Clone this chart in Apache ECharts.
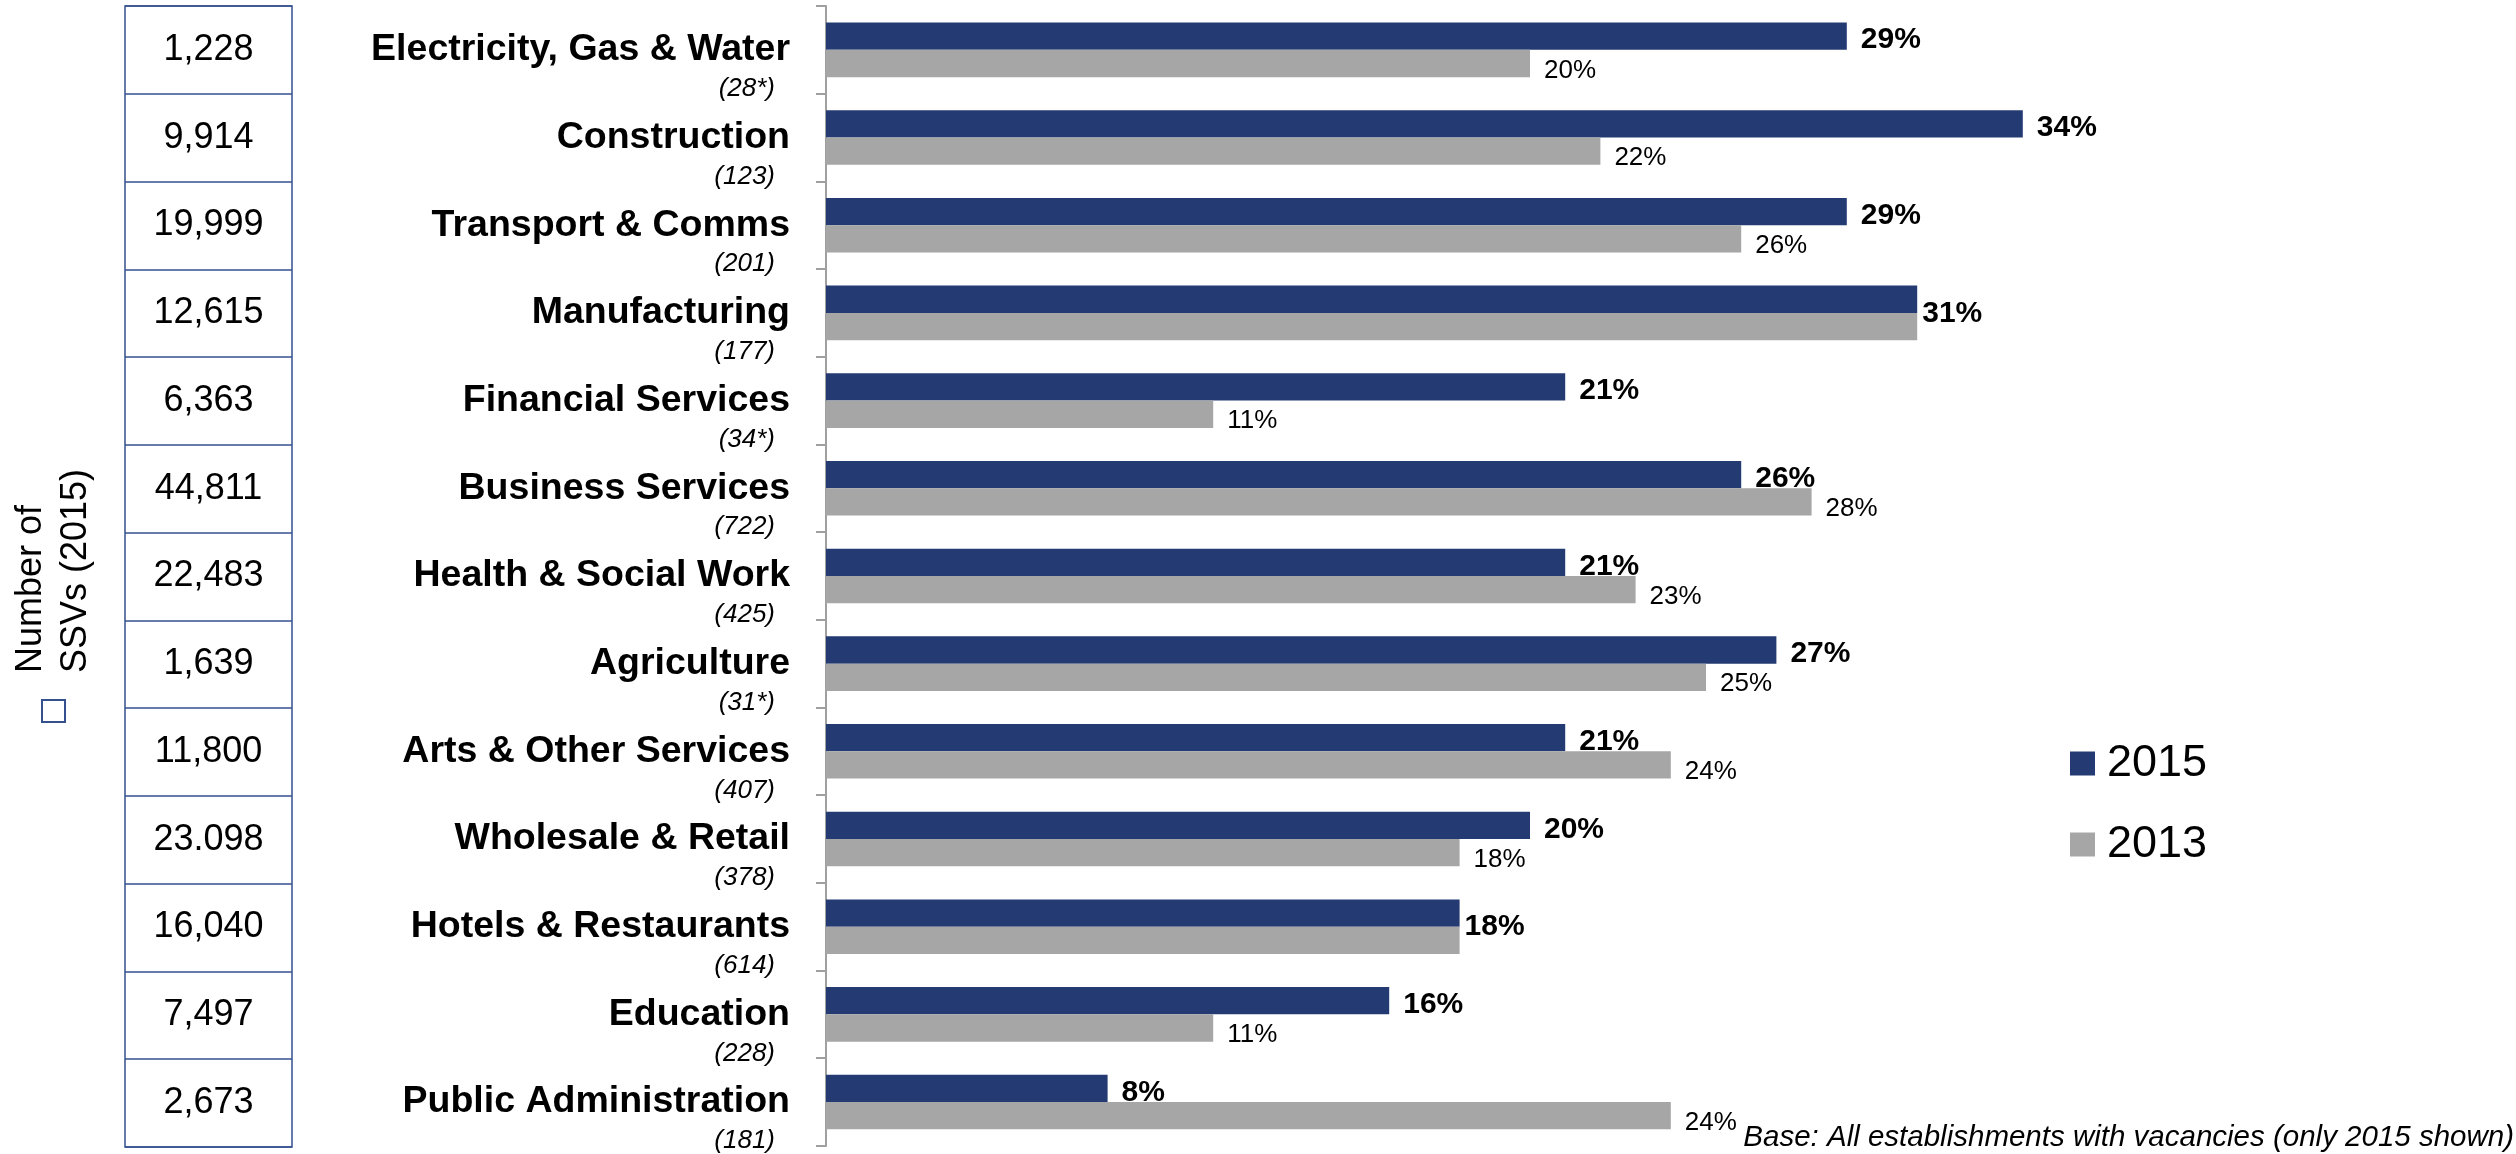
<!DOCTYPE html>
<html>
<head>
<meta charset="utf-8">
<script src="https://cdn.jsdelivr.net/npm/echarts@6/dist/echarts.min.js"></script>
<style>
  html, body { margin: 0; padding: 0; background: #ffffff; }
  #chart { width: 2516px; height: 1154px; }
</style>
</head>
<body>
<div id="chart"></div>
<script>
// Sectors, top to bottom
const categories = [
  'Electricity, Gas & Water', 'Construction', 'Transport & Comms', 'Manufacturing',
  'Financial Services', 'Business Services', 'Health & Social Work', 'Agriculture',
  'Arts & Other Services', 'Wholesale & Retail', 'Hotels & Restaurants', 'Education',
  'Public Administration'
];
// Base sizes shown under each sector name
const bases = ['(28*)', '(123)', '(201)', '(177)', '(34*)', '(722)', '(425)', '(31*)',
  '(407)', '(378)', '(614)', '(228)', '(181)'];
// Number of SSVs (2015), as printed in the side table
const ssvCounts = ['1,228', '9,914', '19,999', '12,615', '6,363', '44,811', '22,483',
  '1,639', '11,800', '23.098', '16,040', '7,497', '2,673'];
// Percentages by year
const values2015 = [29, 34, 29, 31, 21, 26, 21, 27, 21, 20, 18, 16, 8];
const values2013 = [20, 22, 26, 31, 11, 28, 23, 25, 24, 18, 18, 11, 24];

const FONT = '"Liberation Sans", Arial, sans-serif';
const NAVY = '#243A73';
const GREY = '#A6A6A6';
const TABLE_LINE = '#34508F';

// When both years are equal, one label is shown, centred on the pair of bars
const data2015 = values2015.map((v, i) => {
  if (v === values2013[i]) {
    return { value: v, label: { distance: 5, offset: [0, 14] } };
  }
  return v;
});
const data2013 = values2013.map((v, i) => {
  if (v === values2015[i]) {
    return { value: v, label: { show: false } };
  }
  return v;
});

const chart = echarts.init(document.getElementById('chart'), null, { renderer: 'canvas' });

chart.setOption({
  animation: false,
  backgroundColor: '#ffffff',
  textStyle: { fontFamily: FONT },
  grid: [
    // main bar area
    { left: 826, top: 6, width: 1408, height: 1141, containLabel: false },
    // side table of SSV counts
    { left: 125, top: 6, width: 167, height: 1141, show: true,
      borderColor: TABLE_LINE, borderWidth: 1.5, backgroundColor: 'transparent' }
  ],
  xAxis: [
    { gridIndex: 0, type: 'value', min: 0, max: 40, show: false },
    { gridIndex: 1, type: 'value', min: 0, max: 1, show: false }
  ],
  yAxis: [
    {
      gridIndex: 0,
      type: 'category',
      data: categories,
      inverse: true,
      axisLine: { show: true, lineStyle: { color: '#A0A0A0', width: 2 } },
      axisTick: { show: true, length: 10, inside: false, lineStyle: { color: '#A0A0A0', width: 2 } },
      axisLabel: {
        margin: 36,
        padding: [36, 0, 0, 0],
        formatter: (v, i) => '{n|' + v + '}\n{s|' + bases[i] + '}',
        rich: {
          n: { fontFamily: FONT, fontSize: 37.5, fontWeight: 'bold', color: '#000', lineHeight: 42, align: 'right' },
          s: { fontFamily: FONT, fontSize: 26, fontStyle: 'italic', color: '#000', lineHeight: 36,
               align: 'right', padding: [0, 15, 0, 0] }
        }
      }
    },
    {
      gridIndex: 1,
      type: 'category',
      data: categories,
      inverse: true,
      axisLine: { show: false },
      axisTick: { show: false },
      splitLine: { show: true, lineStyle: { color: TABLE_LINE, width: 1.5 } },
      axisLabel: {
        margin: -83.5,
        align: 'center',
        fontFamily: FONT,
        fontSize: 36,
        color: '#000',
        formatter: (v, i) => ssvCounts[i]
      }
    }
  ],
  legend: {
    orient: 'vertical',
    left: 2065,
    top: 736,
    itemWidth: 25,
    itemHeight: 24,
    itemGap: 36,
    icon: 'rect',
    data: ['2015', '2013'],
    textStyle: { fontFamily: FONT, fontSize: 45, color: '#000', padding: [0, 0, 0, 7] }
  },
  series: [
    {
      name: '2015',
      type: 'bar',
      xAxisIndex: 0,
      yAxisIndex: 0,
      data: data2015,
      barWidth: 27.3,
      barGap: '0%',
      itemStyle: { color: NAVY },
      label: {
        show: true,
        position: 'right',
        distance: 14,
        offset: [0, 4],
        formatter: p => p.value + '%',
        fontFamily: FONT,
        fontSize: 30,
        fontWeight: 'bold',
        color: '#000'
      }
    },
    {
      name: '2013',
      type: 'bar',
      xAxisIndex: 0,
      yAxisIndex: 0,
      data: data2013,
      barWidth: 27.3,
      barGap: '0%',
      itemStyle: { color: GREY },
      label: {
        show: true,
        position: 'right',
        distance: 14,
        offset: [0, 7],
        formatter: p => p.value + '%',
        fontFamily: FONT,
        fontSize: 26,
        color: '#000'
      }
    }
  ],
  graphic: [
    // rotated side heading for the table
    { type: 'text', x: 31, y: 673, rotation: Math.PI / 2,
      style: { text: 'Number of', fontFamily: FONT, fontSize: 36, fill: '#000',
               align: 'left', verticalAlign: 'middle' } },
    { type: 'text', x: 76, y: 673, rotation: Math.PI / 2,
      style: { text: 'SSVs (2015)', fontFamily: FONT, fontSize: 36, fill: '#000',
               align: 'left', verticalAlign: 'middle' } },
    { type: 'rect', shape: { x: 42, y: 700, width: 23, height: 22 },
      style: { fill: 'none', stroke: TABLE_LINE, lineWidth: 2 } },
    // base note
    { type: 'text', x: 2514, y: 1138,
      style: { text: 'Base: All establishments with vacancies (only 2015 shown)',
               fontFamily: FONT, fontSize: 29.5, fontStyle: 'italic', fill: '#000',
               align: 'right', verticalAlign: 'middle' } }
  ]
});
</script>
</body>
</html>
